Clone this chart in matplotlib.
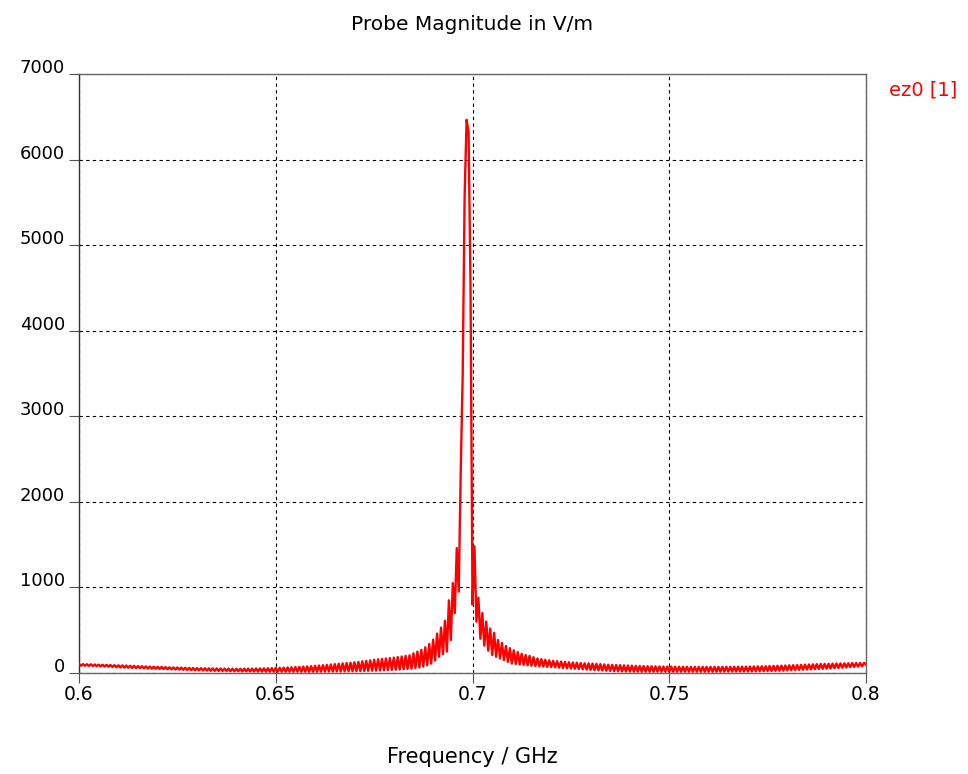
import numpy as np
import matplotlib
matplotlib.use("Agg")
import matplotlib.pyplot as plt
from matplotlib.transforms import ScaledTranslation

# Frequency axis in GHz, sampled every 0.0005 GHz from 0.6 to 0.8
freq_start = 0.6
freq_step = 0.0005

# Probe magnitude (V/m), ten samples per row
magnitude = [
    105, 85, 104, 84, 103, 82, 102, 80, 100, 79,
    98, 77, 97, 75, 96, 73, 94, 70, 92, 67,
    90, 65, 89, 63, 87, 61, 85, 59, 84, 57,
    82, 56, 80, 54, 78, 52, 76, 50, 74, 49,
    72, 48, 71, 46, 69, 44, 67, 42, 66, 40,
    65, 39, 64, 37, 62, 35, 61, 33, 59, 31,
    58, 30, 57, 28, 56, 27, 55, 26, 54, 25,
    54, 24, 53, 23, 52, 22, 52, 21, 51, 21,
    50, 20, 50, 19, 51, 19, 51, 18, 52, 18,
    53, 17, 54, 17, 55, 16, 56, 16, 58, 15,
    60, 15, 61, 15, 63, 15, 65, 15, 67, 15,
    70, 15, 72, 15, 75, 15, 77, 15, 80, 15,
    85, 15, 88, 16, 92, 16, 96, 17, 100, 17,
    105, 18, 108, 18, 112, 19, 116, 20, 120, 21,
    125, 22, 130, 23, 136, 24, 142, 25, 148, 26,
    155, 27, 160, 29, 165, 31, 170, 33, 175, 36,
    180, 38, 186, 41, 193, 44, 200, 47, 207, 50,
    230, 58, 250, 66, 270, 75, 300, 90, 340, 110,
    390, 145, 460, 190, 530, 220, 610, 250, 850, 385,
    1050, 700, 1460, 950, 2340, 3460, 5575, 6465, 6320, 4500,
    800, 1480, 600, 880, 400, 700, 320, 600, 260, 520,
    210, 470, 190, 385, 170, 350, 150, 315, 130, 290,
    110, 265, 105, 245, 100, 225, 95, 210, 90, 200,
    85, 185, 82, 170, 78, 162, 75, 155, 72, 148,
    70, 142, 66, 138, 62, 134, 58, 130, 55, 126,
    52, 123, 49, 120, 46, 117, 43, 114, 40, 112,
    37, 110, 34, 107, 31, 104, 28, 101, 26, 98,
    24, 96, 22, 94, 20, 92, 19, 90, 18, 88,
    17, 86, 16, 84, 16, 83, 15, 82, 15, 80,
    15, 79, 15, 78, 15, 77, 15, 76, 15, 75,
    15, 75, 15, 74, 15, 74, 15, 73, 15, 73,
    15, 72, 15, 72, 15, 72, 15, 72, 15, 72,
    15, 72, 15, 72, 16, 72, 16, 73, 16, 73,
    17, 73, 17, 74, 17, 74, 18, 75, 18, 75,
    18, 76, 19, 77, 20, 78, 21, 79, 22, 80,
    23, 82, 24, 83, 26, 85, 27, 86, 28, 88,
    30, 90, 32, 92, 34, 94, 36, 96, 38, 98,
    40, 100, 42, 102, 44, 104, 46, 106, 48, 107,
    50, 108, 53, 110, 56, 111, 59, 112, 62, 113,
    65, 114, 68, 116, 71, 117, 74, 118, 77, 119,
    100,
]

x_ticks = [0.6, 0.65, 0.7, 0.75, 0.8]
x_tick_labels = ["0.6", "0.65", "0.7", "0.75", "0.8"]
y_ticks = [0, 1000, 2000, 3000, 4000, 5000, 6000, 7000]

freq = freq_start + freq_step * np.arange(len(magnitude))

fig = plt.figure(figsize=(9.68, 7.74), dpi=100)
ax = fig.add_axes([79 / 968, 1 - 673 / 774, 787 / 968, 599 / 774])

ax.plot(freq, magnitude, color="#ff0000", lw=1.7, zorder=3)

ax.set_xlim(0.6, 0.8)
ax.set_ylim(0, 7000)
ax.set_xticks(x_ticks)
ax.set_xticklabels(x_tick_labels)
ax.set_yticks(y_ticks)

ax.grid(True, color="black", lw=0.8, linestyle=(0, (3, 3)))
for side in ["top", "right", "left", "bottom"]:
    ax.spines[side].set_color("#666666")
    ax.spines[side].set_linewidth(1.0)
ax.spines["left"].set_color("#333333")

ax.tick_params(axis="both", direction="out", length=7, width=0.8,
               color="#555555")
ax.tick_params(axis="x", pad=2, labelsize=13.5)
ax.tick_params(axis="y", pad=3, labelsize=13)

# y labels sit a little above their gridlines
offset = ScaledTranslation(0, 8 / 100, fig.dpi_scale_trans)
for lbl in ax.get_yticklabels():
    lbl.set_transform(lbl.get_transform() + offset)

fig.text(472 / 968, 1 - 24 / 774, "Probe Magnitude in V/m",
         ha="center", va="center", fontsize=14.5)
fig.text(472 / 968, 1 - 757 / 774, "Frequency / GHz",
         ha="center", va="center", fontsize=15)
fig.text(889 / 968, 1 - 90 / 774, "ez0 [1]",
         ha="left", va="center", fontsize=14, color="#ff0000")

fig.savefig("out.png", dpi=100, facecolor="white")
